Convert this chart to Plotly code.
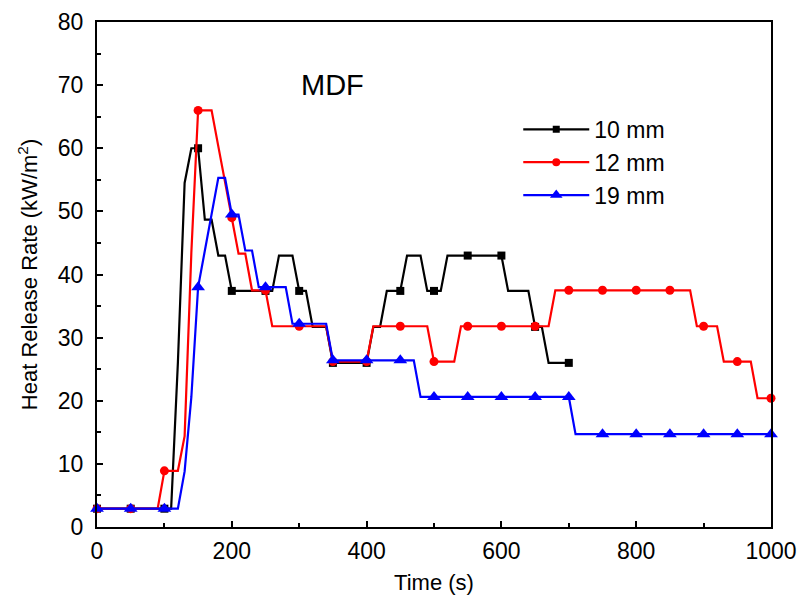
import plotly.graph_objects as go

# ---------------- data ----------------
time_10mm = list(range(0, 701, 10))
hrr_10mm = [2.9, 2.9, 2.9, 2.9, 2.9, 2.9, 2.9, 2.9, 2.9, 2.9, 2.9, 2.9,
            26.0, 54.5, 60.0, 60.0, 48.7, 48.7, 43.0, 43.0, 37.4,
            37.4, 37.4, 37.4, 37.4, 37.4, 37.4,
            43.0, 43.0, 43.0,
            37.4, 37.4,
            31.7, 31.7, 31.7,
            26.0, 26.0, 26.0, 26.0, 26.0, 26.0,
            31.7, 31.7,
            37.4, 37.4, 37.4,
            43.0, 43.0, 43.0,
            37.4, 37.4, 37.4,
            43.0, 43.0, 43.0, 43.0, 43.0, 43.0, 43.0, 43.0, 43.0,
            37.4, 37.4, 37.4, 37.4,
            31.7, 31.7,
            26.0, 26.0, 26.0, 26.0]

time_12mm = list(range(0, 1001, 10))
hrr_12mm = [2.9, 2.9, 2.9, 2.9, 2.9, 2.9, 2.9, 2.9, 2.9, 2.9,
            8.9, 8.9, 8.9, 14.4, 43.5, 66.0, 66.0, 66.0, 60.3, 54.6,
            49.0, 43.3, 43.3, 37.5, 37.5, 37.5,
            31.8, 31.8, 31.8, 31.8, 31.8, 31.8, 31.8, 31.8, 31.8,
            26.2, 26.2, 26.2, 26.2, 26.2, 26.2,
            31.8, 31.8, 31.8, 31.8, 31.8, 31.8, 31.8, 31.8, 31.8,
            26.2, 26.2, 26.2, 26.2,
            31.8, 31.8, 31.8, 31.8, 31.8, 31.8, 31.8, 31.8, 31.8, 31.8, 31.8, 31.8, 31.8, 31.8,
            37.5, 37.5, 37.5, 37.5, 37.5, 37.5, 37.5, 37.5, 37.5, 37.5, 37.5,
            37.5, 37.5, 37.5, 37.5, 37.5, 37.5, 37.5, 37.5, 37.5, 37.5,
            31.8, 31.8, 31.8, 31.8,
            26.2, 26.2, 26.2, 26.2, 26.2,
            20.4, 20.4, 20.4]

time_19mm = list(range(0, 1001, 10))
hrr_19mm = [2.9, 2.9, 2.9, 2.9, 2.9, 2.9, 2.9, 2.9, 2.9, 2.9, 2.9, 2.9, 2.9,
            8.8, 20.6, 38.0, 43.8, 49.5, 55.3, 55.3, 49.5, 49.5, 43.8, 43.8,
            38.0, 38.0, 38.0, 38.0, 38.0,
            32.2, 32.2, 32.2, 32.2, 32.2, 32.2,
            26.4, 26.4, 26.4, 26.4, 26.4, 26.4, 26.4, 26.4, 26.4, 26.4, 26.4, 26.4, 26.4,
            20.6, 20.6, 20.6, 20.6, 20.6, 20.6, 20.6, 20.6, 20.6, 20.6, 20.6, 20.6,
            20.6, 20.6, 20.6, 20.6, 20.6, 20.6, 20.6, 20.6, 20.6, 20.6, 20.6,
            14.7, 14.7, 14.7, 14.7, 14.7, 14.7, 14.7, 14.7, 14.7, 14.7,
            14.7, 14.7, 14.7, 14.7, 14.7, 14.7, 14.7, 14.7, 14.7, 14.7,
            14.7, 14.7, 14.7, 14.7, 14.7, 14.7, 14.7, 14.7, 14.7, 14.7]

series_names = ["10 mm", "12 mm", "19 mm"]
x_tick_vals = [0, 200, 400, 600, 800, 1000]
y_tick_vals = [0, 10, 20, 30, 40, 50, 60, 70, 80]
marker_step = 5  # a marker every 5th sample (50 s)

# ---------------- figure ----------------
FONT = "Liberation Sans, Arial, sans-serif"
styles = [
    dict(color="#000000", symbol="square", size=8),
    dict(color="#FF0000", symbol="circle", size=9),
    dict(color="#0000FF", symbol="triangle-up", size=12),
]
data = [(time_10mm, hrr_10mm), (time_12mm, hrr_12mm), (time_19mm, hrr_19mm)]

fig = go.Figure()
for (t, v), name, st in zip(data, series_names, styles):
    fig.add_trace(go.Scatter(x=t, y=v, mode="lines", showlegend=False,
                             line=dict(color=st["color"], width=2.2),
                             cliponaxis=False, hoverinfo="skip"))
    fig.add_trace(go.Scatter(x=t[::marker_step], y=v[::marker_step], mode="markers",
                             showlegend=False, cliponaxis=False,
                             marker=dict(color=st["color"], symbol=st["symbol"], size=st["size"])))
for name, st in zip(series_names, styles):
    fig.add_trace(go.Scatter(x=[None], y=[None], mode="lines+markers", name=name,
                             line=dict(color=st["color"], width=2.2),
                             marker=dict(color=st["color"], symbol=st["symbol"],
                                         size=st["size"] - 1)))

axis_common = dict(
    showline=True, linecolor="black", linewidth=2, mirror=True,
    ticks="inside", ticklen=6, tickwidth=1.5, tickcolor="black",
    showgrid=False, zeroline=False, automargin=False,
    tickfont=dict(family=FONT, size=23, color="black"),
)

fig.update_xaxes(range=[0, 1000], tickvals=x_tick_vals, ticklabelstandoff=2,
                 minor=dict(dtick=100, ticks="inside", ticklen=4, tickwidth=1.5, tickcolor="black"),
                 title=dict(text="Time (s)", font=dict(family=FONT, size=22, color="black"), standoff=12),
                 **axis_common)
fig.update_yaxes(range=[0, 80], tickvals=y_tick_vals, ticklabelstandoff=7,
                 minor=dict(dtick=5, ticks="inside", ticklen=4, tickwidth=1.5, tickcolor="black"),
                 title=dict(text="Heat Release Rate (kW/m<sup>2</sup>)",
                            font=dict(family=FONT, size=22, color="black"), standoff=14),
                 **axis_common)

fig.add_annotation(text="MDF", x=0.35, y=0.875, xref="paper", yref="paper",
                   showarrow=False, xanchor="center", yanchor="middle",
                   font=dict(family=FONT, size=29, color="black"))

fig.update_layout(
    width=800, height=599,
    margin=dict(l=97, r=29, t=22, b=72),
    paper_bgcolor="white", plot_bgcolor="white",
    font=dict(family=FONT, color="black"),
    legend=dict(x=0.625, y=0.83, xanchor="left", yanchor="top",
                bgcolor="rgba(0,0,0,0)", borderwidth=0,
                font=dict(family=FONT, size=23, color="black"),
                itemwidth=66, tracegroupgap=0),
)

fig.write_html("out.html", config={"displayModeBar": False},
               post_script="document.body.style.margin='0';")
